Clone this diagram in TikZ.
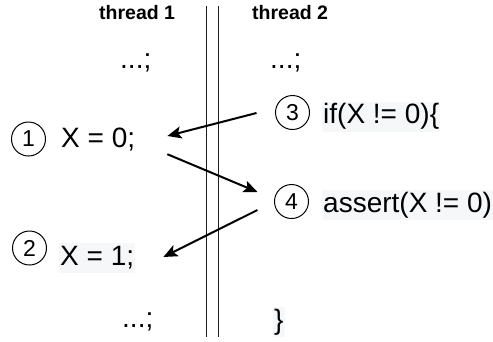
\documentclass[tikz,border=0pt]{standalone}
\usepackage{fontspec}
\setmainfont{Liberation Sans}
\usetikzlibrary{arrows.meta}
\definecolor{codebg}{RGB}{246,247,249}
\definecolor{sepline}{RGB}{30,30,30}
\begin{document}
\begin{tikzpicture}[x=1pt,y=-1pt,
  code/.style={anchor=base west,inner xsep=1pt,inner ysep=2pt,text height=20pt,text depth=6pt,font=\fontsize{28}{32}\selectfont},
  codebgbox/.style={code,fill=codebg},
  num/.style={circle,draw,line width=1pt,minimum size=34pt,inner sep=0pt,font=\fontsize{23}{26}\selectfont},
  thr/.style={anchor=base west,inner sep=0pt,font=\fontsize{19.5}{22}\selectfont\bfseries},
  sep/.style={draw=sepline,line width=1pt},
  arr/.style={line width=2pt,-{Stealth[length=14pt,width=12pt,inset=3pt]}}]
\useasboundingbox (0,0) rectangle (493,341);
% thread labels
\node[thr] (th1) at (99,19.3) {thread 1};
\node[thr] (th2) at (252,19.3) {thread 2};
% separator lines
\coordinate (s1t) at (206,6); \coordinate (s1b) at (206,337);
\coordinate (s2t) at (218,6); \coordinate (s2b) at (218,337);
\draw[sep] (s1t) -- (s1b);
\draw[sep] (s2t) -- (s2b);
% thread 1
\node[code] (d1) at (119,68.5) {...;};
\node[num] (c1) at (28.5,139) {1};
\node[code] (x0) at (60,147) {X = 0;};
\node[num] (c2) at (29.5,248) {2};
\node[codebgbox] (x1) at (59,265) {X = 1;};
\node[code] (d2) at (121,327) {...;};
% thread 2
\node[code] (d3) at (269,68.5) {...;};
\node[num] (c3) at (292.5,112.5) {3};
\node[codebgbox] (if) at (322,123.5) {if(X != 0)\{};
\node[num] (c4) at (291.5,201.5) {4};
\node[codebgbox] (as) at (322,212) {assert(X != 0)};
\node[codebgbox] (br) at (273,329) {\}};
% arrows
\draw[arr] ([shift={(-18.5,0.5)}]c3.west) -- ([shift={(31,-4)}]x0.east);
\draw[arr] ([shift={(31,-1)}]x0.south east) -- ([shift={(-16.5,-9.5)}]c4.west);
\draw[arr] ([shift={(-16.5,8.5)}]c4.west) -- ([shift={(28,-1)}]x1.east);
\end{tikzpicture}
\end{document}
